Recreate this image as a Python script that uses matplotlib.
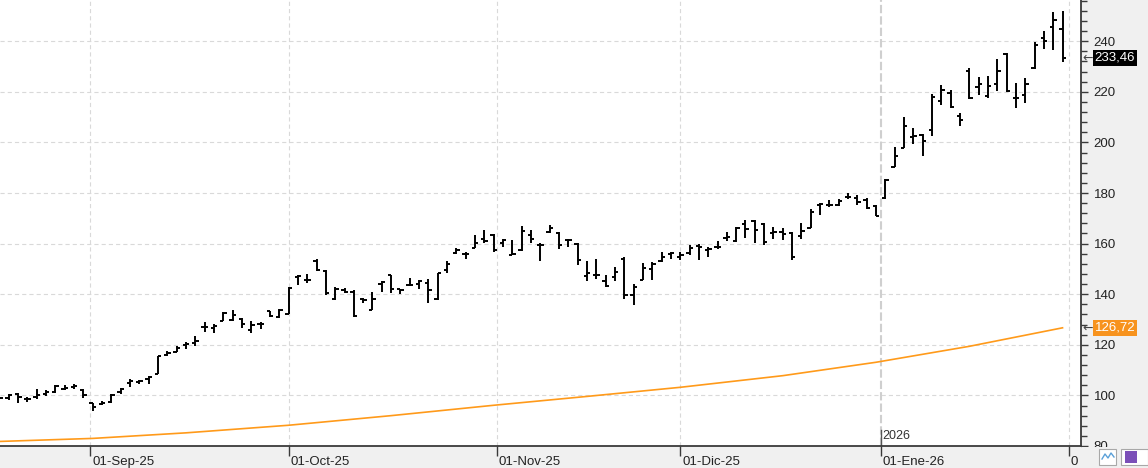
import numpy as np
import pandas as pd
import matplotlib
matplotlib.use("Agg")
import matplotlib.pyplot as plt
import matplotlib.transforms as mtransforms
from matplotlib.patches import Rectangle
from matplotlib.ticker import MultipleLocator

plt.rcParams["lines.scale_dashes"] = False
plt.rcParams["font.family"] = ["Liberation Sans", "DejaVu Sans"]

# trading days (US calendar)
holidays = ["2025-09-01", "2025-11-27", "2025-12-25", "2026-01-01", "2026-01-19"]
days = pd.bdate_range("2025-08-18", "2026-01-30")
days = days[~days.isin(pd.to_datetime(holidays))]

opens = [98.9, 98.9, 100.7, 98.6, 99.3, 100.7, 101.3, 102.7, 103.4, 102.0,
         96.8, 96.6, 97.2, 101.3, 104.8, 105.2, 106.3, 108.3, 116.0, 117.2,
         119.8, 120.6, 127.0, 126.6, 129.4, 129.7, 130.1, 126.0, 128.1, 133.4,
         131.0, 132.3, 147.0, 145.5, 153.0, 149.2, 138.3, 141.5, 140.9, 138.3,
         133.9, 144.0, 147.5, 142.0, 143.5, 144.2, 144.6, 138.0, 149.7, 156.2,
         155.8, 158.1, 162.0, 163.3, 160.1, 155.6, 157.4, 163.3, 159.6, 164.4,
         164.0, 161.4, 159.8, 147.1, 147.5, 145.1, 146.9, 154.1, 139.6, 145.5,
         149.8, 153.1, 155.7, 154.8, 156.1, 159.0, 157.4, 158.7, 162.4, 161.1,
         167.7, 168.9, 167.7, 164.3, 164.7, 164.0, 162.9, 166.0, 175.3, 175.2,
         175.2, 178.5, 178.2, 177.2, 174.8, 177.9, 190.1, 197.6, 202.3, 202.9,
         204.9, 216.4, 219.4, 210.4, 228.2, 221.8, 218.5, 223.0, 235.0, 217.7,
         218.8, 229.3, 241.2, 245.5, 244.7]
highs = [99.3, 100.4, 100.9, 99.4, 102.7, 102.0, 104.0, 104.0, 104.6, 102.7,
         97.0, 97.8, 100.4, 103.0, 106.3, 106.0, 107.6, 115.5, 117.4, 119.4,
         121.2, 123.4, 129.0, 128.3, 133.0, 133.6, 130.4, 129.3, 129.0, 133.4,
         134.3, 142.9, 147.5, 147.9, 153.8, 149.5, 142.9, 142.5, 141.6, 138.7,
         140.9, 145.2, 147.5, 142.2, 146.6, 145.5, 145.9, 148.4, 153.2, 158.1,
         156.5, 163.3, 165.3, 163.7, 162.0, 161.4, 166.9, 165.3, 160.1, 167.3,
         164.4, 162.0, 160.4, 153.1, 154.1, 147.5, 150.8, 154.8, 144.2, 152.5,
         152.8, 156.8, 156.8, 156.8, 159.4, 160.0, 158.7, 161.0, 164.7, 166.6,
         169.5, 169.3, 168.2, 166.6, 166.0, 164.7, 168.2, 173.5, 176.1, 177.2,
         177.5, 180.1, 179.4, 177.9, 175.2, 185.5, 198.3, 210.2, 205.6, 203.2,
         219.0, 222.7, 220.7, 211.8, 229.3, 226.0, 226.3, 232.9, 235.2, 223.4,
         225.3, 239.6, 244.1, 251.5, 252.0]
lows = [98.6, 98.2, 97.0, 97.4, 98.6, 99.6, 101.0, 102.0, 102.7, 98.9,
        94.0, 96.2, 97.0, 100.5, 103.3, 104.6, 104.6, 108.3, 115.5, 117.0,
        118.3, 119.4, 125.1, 124.8, 129.3, 129.3, 126.8, 124.7, 126.4, 131.0,
        130.7, 132.1, 143.8, 144.6, 149.2, 139.6, 137.6, 140.5, 131.0, 136.6,
        133.9, 140.9, 140.3, 140.0, 143.3, 142.2, 136.7, 137.9, 148.4, 155.7,
        154.1, 158.1, 160.4, 156.5, 158.7, 155.4, 157.0, 160.1, 153.2, 164.0,
        157.7, 158.5, 151.7, 145.3, 145.9, 142.9, 145.1, 138.3, 135.6, 145.5,
        145.5, 152.8, 154.1, 153.5, 155.4, 153.4, 154.8, 157.7, 161.1, 160.7,
        162.4, 160.3, 159.4, 162.0, 161.4, 153.7, 162.0, 166.0, 171.3, 174.5,
        174.8, 177.5, 175.2, 173.5, 170.9, 177.5, 190.1, 197.6, 199.4, 194.7,
        202.5, 214.8, 213.5, 206.5, 217.0, 218.8, 217.4, 220.5, 219.8, 213.7,
        215.7, 228.9, 236.9, 236.6, 231.9]
closes = [99.0, 100.0, 99.3, 98.6, 100.0, 101.4, 103.6, 103.0, 103.6, 100.0,
          95.5, 97.0, 100.0, 102.6, 105.5, 105.6, 107.1, 115.5, 116.6, 118.8,
          120.3, 121.6, 127.2, 127.3, 132.6, 131.7, 128.4, 127.7, 128.4, 131.3,
          133.9, 142.6, 147.2, 145.8, 149.5, 140.3, 142.2, 141.0, 131.3, 137.6,
          138.3, 144.8, 142.2, 141.6, 143.8, 145.1, 141.6, 148.2, 151.9, 157.3,
          155.8, 160.4, 161.0, 157.3, 161.4, 155.9, 165.1, 162.0, 159.4, 166.2,
          159.4, 161.4, 153.5, 148.2, 147.5, 143.3, 148.8, 139.6, 142.9, 150.4,
          152.1, 154.8, 156.1, 155.4, 158.1, 158.5, 157.7, 158.5, 162.7, 166.0,
          165.6, 165.3, 160.7, 164.7, 163.7, 154.8, 165.1, 172.6, 175.6, 175.4,
          176.9, 178.6, 176.5, 173.9, 171.1, 185.1, 194.7, 206.6, 202.7, 200.7,
          218.1, 220.7, 214.1, 208.8, 217.4, 223.0, 222.4, 228.2, 220.5, 217.7,
          223.1, 238.5, 240.1, 248.2, 233.46]

# moving average, read at selected bars
ma_idx = [0, 10, 20, 31, 42, 53, 63, 73, 84, 94, 104, 114]
ma_val = [81.8, 83.0, 85.2, 88.2, 92.0, 96.1, 99.6, 103.2, 107.8, 113.1, 119.4, 126.72]

month_starts = ["2025-09-01", "2025-10-01", "2025-11-01", "2025-12-01", "2026-01-01", "2026-02-01"]
month_labels = ["01-Sep-25", "01-Oct-25", "01-Nov-25", "01-Dic-25", "01-Ene-26", "0"]

W, H = 1148, 468
fig = plt.figure(figsize=(W / 100, H / 100), dpi=100, facecolor="#f0f0f0")
ax = fig.add_axes([0, 22 / H, 1081 / W, 446 / H])
ax.set_facecolor("white")

x = np.arange(len(days))
ax.vlines(x, lows, highs, colors="black", linewidth=1.4, zorder=3)
ax.hlines(opens, x - 0.36, x, colors="black", linewidth=1.4, zorder=3)
ax.hlines(closes, x, x + 0.36, colors="black", linewidth=1.4, zorder=3)

ax.plot(ma_idx, ma_val, color="#ff9a1a", linewidth=1.2, zorder=2)

# tick positions interpolated on calendar time
dnum = days.values.astype("int64")
ext = np.append(dnum, pd.Timestamp("2026-02-02").value)
ext_x = np.arange(len(ext))
tick_pos = [np.interp(pd.Timestamp(m).value, ext, ext_x) for m in month_starts]

ax.set_xlim(0.054, 115.98)
ax.set_ylim(80, 256.3)

for side in ("top", "left"):
    ax.spines[side].set_visible(False)
for side in ("right", "bottom"):
    ax.spines[side].set_color("#3a3a3a")
    ax.spines[side].set_linewidth(1.3)

ax.yaxis.tick_right()
ax.set_yticks(np.arange(80, 241, 20))
ax.yaxis.set_minor_locator(MultipleLocator(4))
ax.tick_params(axis="y", which="major", length=5, width=1, color="#3a3a3a",
               labelsize=9.5, labelcolor="#222222", pad=4)
ax.tick_params(axis="y", which="minor", length=4, width=1, color="#3a3a3a")

ax.set_xticks(tick_pos)
ax.set_xticklabels(month_labels, ha="left")
ax.tick_params(axis="x", length=7, width=1, color="#3a3a3a", labelsize=9.5,
               labelcolor="#222222", pad=0)
shift = mtransforms.ScaledTranslation(2 / 100, 0, fig.dpi_scale_trans)
for lab in ax.get_xticklabels():
    lab.set_transform(lab.get_transform() + shift)

# grid
for v in range(100, 241, 20):
    ax.axhline(v, color="#d9d9d9", linewidth=0.8, linestyle=(0, (3, 2.2)), zorder=1)
for i, p in enumerate(tick_pos):
    if month_labels[i] == "01-Ene-26":
        ax.axvline(p, color="#cfcfcf", linewidth=1.5, linestyle=(0, (6, 2.2)), zorder=1)
        ax.plot([p, p], [80, 86.5], color="#555555", linewidth=1.0, zorder=2)
        ax.text(p + 0.15, 81.5, "2026", fontsize=9, color="#333333", va="bottom", ha="left")
    else:
        ax.axvline(p, color="#d9d9d9", linewidth=0.8, linestyle=(0, (3, 2.2)), zorder=1)

# last value tags
tr = mtransforms.blended_transform_factory(ax.transAxes, ax.transData)
for val, txt, col in [(closes[-1], "233,46", "black"), (ma_val[-1], "126,72", "#f7931e")]:
    ax.text(1.0015, val, "\u2190", transform=tr, fontsize=9, color="#444444",
            va="center", ha="left", clip_on=False, family="DejaVu Sans")
    ax.text(1.0125, val, txt, transform=tr, fontsize=9.5, color="white",
            va="center", ha="left", clip_on=False,
            bbox=dict(boxstyle="square,pad=0.15", fc=col, ec="none"))

# bottom strip over the right panel and small buttons
def px(x0, y0, w, h):
    return (x0 / W, 1 - (y0 + h) / H), w / W, h / H

xy, w, h = px(1082, 447, 66, 21)
fig.add_artist(Rectangle(xy, w, h, transform=fig.transFigure, fc="#f0f0f0", ec="none", zorder=10))
xy, w, h = px(1099, 449, 17, 16)
fig.add_artist(Rectangle(xy, w, h, transform=fig.transFigure, fc="white", ec="#a8a8a8", lw=0.8, zorder=11))
xy, w, h = px(1121, 449, 27, 16)
fig.add_artist(Rectangle(xy, w, h, transform=fig.transFigure, fc="white", ec="#a8a8a8", lw=0.8, zorder=11))
xy, w, h = px(1125, 451, 12, 12)
fig.add_artist(Rectangle(xy, w, h, transform=fig.transFigure, fc="#7b4fb8", ec="none", zorder=12))
zx = np.array([1102, 1105, 1108, 1111, 1114]) / W
zy = 1 - np.array([459, 454, 458, 453, 457]) / H
fig.add_artist(plt.Line2D(zx, zy, transform=fig.transFigure, color="#5aa0d8", lw=1, zorder=12))

fig.savefig("out.png", dpi=100, facecolor=fig.get_facecolor())
